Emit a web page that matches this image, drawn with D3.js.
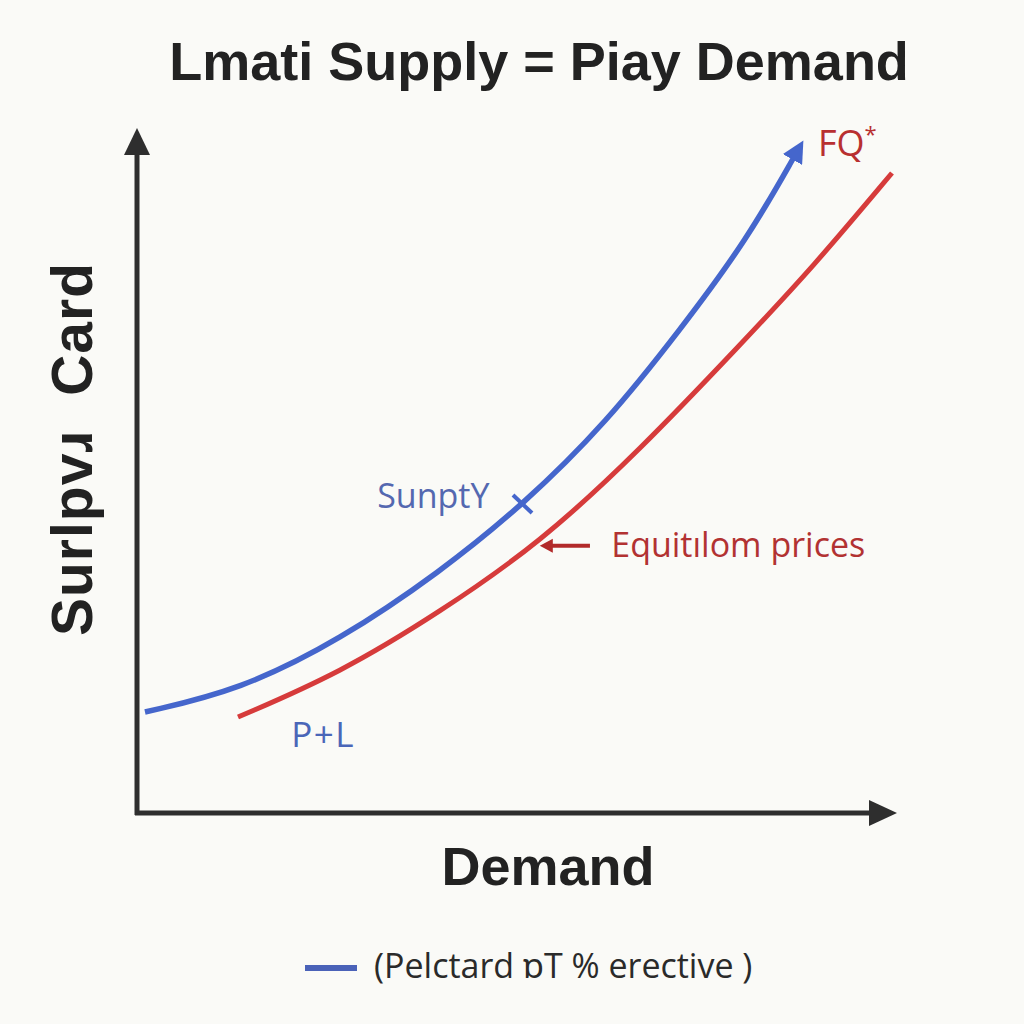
<!DOCTYPE html>
<html><head><meta charset="utf-8">
<script src="https://cdn.jsdelivr.net/npm/d3@7"></script>
<style>html,body{margin:0;padding:0;background:#fafaf7;}</style>
</head><body>
<script>
// ---- data ----
const titleText = "Lmati Supply = Piay Demand";
const xLabel = "Demand";
const yLabel = "Surlpvɹ  Card";
const supplyX = [1.05, 13.55, 26.71, 39.87, 50.79, 61.84, 71.45, 80.26, 86.97];
const supplyY = [14.74, 17.96, 25.26, 35.18, 44.96, 57.08, 70.51, 83.65, 96.79];
const demandX = [13.29, 26.71, 39.87, 53.03, 66.18, 79.34, 88.95, 99.34];
const demandY = [14.01, 20.44, 29.34, 39.42, 52.99, 68.32, 79.71, 93.43];
const annotations = [
  {text: "SunptY", x: 31.6, y: 44.5, color: "#5468b0", size: 34, spacing: 0},
  {text: "Equitılom prices", x: 62.4, y: 37.4, color: "#b23232", size: 34, spacing: 0},
  {text: "P+L", x: 20.3, y: 9.7, color: "#4a66b8", size: 35, spacing: 1.5}
];
const legendText = "(Pelctard ɒT % erective )";

// ---- setup ----
const W = 1024, H = 1024;
const svg = d3.select("body").append("svg").attr("width", W).attr("height", H);
svg.append("rect").attr("width", W).attr("height", H).attr("fill", "#fafaf7");

const x = d3.scaleLinear().domain([0, 100]).range([137, 897]);
const y = d3.scaleLinear().domain([0, 100]).range([813, 128]);

const axisColor = "#2e2e2e";
// axes
const gx = svg.append("g").attr("transform", `translate(0,${y(0)})`)
  .call(d3.axisBottom(x).tickValues([]).tickSizeOuter(0));
gx.select(".domain").attr("stroke", axisColor).attr("stroke-width", 5)
  .attr("d", `M${x(0)-2},0H${x(100)-18}`);
const gy = svg.append("g").attr("transform", `translate(${x(0)},0)`)
  .call(d3.axisLeft(y).tickValues([]).tickSizeOuter(0));
gy.select(".domain").attr("stroke", axisColor).attr("stroke-width", 5)
  .attr("d", `M0,${y(0)+2}V${y(100)+18}`);
// arrowheads
svg.append("path").attr("fill", axisColor)
  .attr("d", `M${x(100)},${y(0)} L${x(100)-28},${y(0)-13} L${x(100)-28},${y(0)+13} Z`);
svg.append("path").attr("fill", axisColor)
  .attr("d", `M${x(0)},${y(100)} L${x(0)-13},${y(100)+27} L${x(0)+13},${y(100)+27} Z`);

// curves
const line = d3.line().x(d => x(d[0])).y(d => y(d[1])).curve(d3.curveBasis);
const supply = supplyX.map((v, i) => [v, supplyY[i]]);
const demand = demandX.map((v, i) => [v, demandY[i]]);

const defs = svg.append("defs");
defs.append("marker").attr("id", "blueArrow").attr("viewBox", "0 0 10 10")
  .attr("refX", 5).attr("refY", 5).attr("markerWidth", 4).attr("markerHeight", 4)
  .attr("orient", "auto").attr("markerUnits", "strokeWidth")
  .append("path").attr("d", "M0,0 L10,5 L0,10 Z").attr("fill", "#4566cc");

svg.append("path").datum(demand).attr("d", line)
  .attr("fill", "none").attr("stroke", "#d63b3b").attr("stroke-width", 5);
svg.append("path").datum(supply).attr("d", line)
  .attr("fill", "none").attr("stroke", "#4566cc").attr("stroke-width", 5.5)
  .attr("marker-end", "url(#blueArrow)");

// tick mark on supply curve
const tx = x(50.79), ty = y(44.96);
svg.append("line").attr("x1", tx - 10).attr("y1", ty - 10).attr("x2", tx + 9).attr("y2", ty + 8)
  .attr("stroke", "#4566cc").attr("stroke-width", 4);

// red equilibrium arrow
const ay = y(39.0);
svg.append("line").attr("x1", x(59.6)).attr("y1", ay).attr("x2", x(54.0)).attr("y2", ay)
  .attr("stroke", "#b22a2a").attr("stroke-width", 4);
svg.append("path").attr("fill", "#b22a2a")
  .attr("d", `M${x(53.0)},${ay} L${x(53.0)+13},${ay-7} L${x(53.0)+13},${ay+7} Z`);

// annotations
annotations.forEach(a => {
  svg.append("text").attr("x", x(a.x)).attr("y", y(a.y))
    .attr("font-family", "'Open Sans', 'Noto Sans', sans-serif")
    .attr("letter-spacing", a.spacing)
    .attr("font-size", a.size).attr("fill", a.color).text(a.text);
});
const fq = svg.append("text").attr("x", 818).attr("y", 156)
  .attr("font-family", "'Open Sans', 'Noto Sans', sans-serif")
  .attr("font-size", 36).attr("fill", "#b83030");
fq.append("tspan").text("FQ");
fq.append("tspan").attr("font-size", 22).attr("dy", -14).text("*");

// title
svg.append("text").attr("x", 539).attr("y", 80).attr("text-anchor", "middle")
  .attr("font-family", "'Liberation Sans', Arial, sans-serif").attr("font-weight", "bold")
  .attr("font-size", 54).attr("fill", "#222").text(titleText);
// x label
svg.append("text").attr("x", 548).attr("y", 885).attr("text-anchor", "middle")
  .attr("font-family", "'Liberation Sans', Arial, sans-serif").attr("font-weight", "bold")
  .attr("font-size", 54).attr("fill", "#222").text(xLabel);
// y label
svg.append("text").attr("transform", "translate(92,449) rotate(-90)").attr("text-anchor", "middle")
  .attr("font-family", "'Liberation Sans', Arial, sans-serif").attr("font-weight", "bold")
  .attr("font-size", 57).attr("letter-spacing", 1).attr("fill", "#222")
  .attr("xml:space", "preserve").text(yLabel);

// legend
svg.append("line").attr("x1", 305).attr("y1", 968).attr("x2", 357).attr("y2", 968)
  .attr("stroke", "#4a62b8").attr("stroke-width", 6);
svg.append("text").attr("x", 374).attr("y", 978)
  .attr("font-family", "'Open Sans', 'Noto Sans', sans-serif")
  .attr("font-size", 34).attr("fill", "#2a2a2a").text(legendText);
</script>
</body></html>
